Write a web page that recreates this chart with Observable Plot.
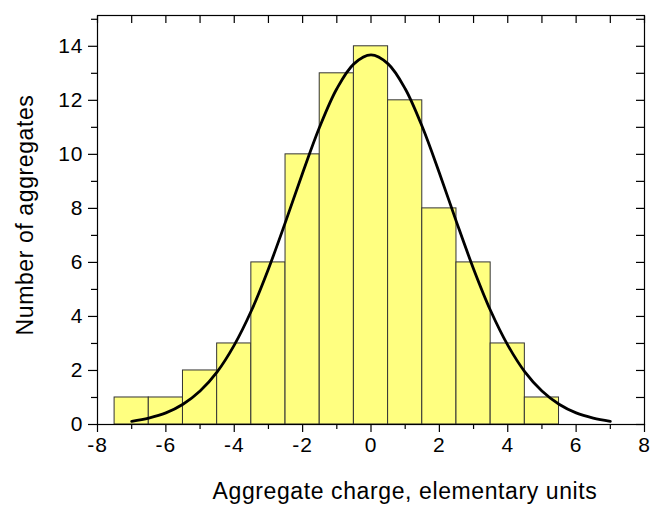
<!DOCTYPE html>
<html>
<head>
<meta charset="utf-8">
<script src="https://cdn.jsdelivr.net/npm/d3@7"></script>
<script src="https://cdn.jsdelivr.net/npm/@observablehq/plot@0.6"></script>
<style>
  body { margin: 0; background: #fff; }
  svg text { font-family: "Liberation Sans", Arial, sans-serif; }
</style>
</head>
<body>
<div id="chart"></div>
<script>
// Histogram bins (center charge) and counts
const binCenters = [-7, -6, -5, -4, -3, -2, -1, 0, 1, 2, 3, 4, 5];
const binCounts  = [ 1,  1,  2,  3,  6, 10, 13, 14, 12,  8,  6,  3,  1];
const binWidth = 1;

// Fitted curve
const curveX = [-7, -6.5, -6, -5.5, -5, -4.5, -4, -3.5, -3, -2.5, -2, -1.5, -1, -0.5, 0,
                0.5, 1, 1.5, 2, 2.5, 3, 3.5, 4, 4.5, 5, 5.5, 6, 6.5, 7];
const curveY = [0.12, 0.24, 0.43, 0.75, 1.24, 1.95, 2.94, 4.21, 5.76, 7.50, 9.31, 11.02, 12.43, 13.35, 13.68,
                13.35, 12.43, 11.02, 9.31, 7.50, 5.76, 4.21, 2.94, 1.95, 1.24, 0.75, 0.43, 0.24, 0.12];

const xMajor = [-8, -6, -4, -2, 0, 2, 4, 6, 8];
const xMinor = [-7, -5, -3, -1, 1, 3, 5, 7];
const yMajor = [0, 2, 4, 6, 8, 10, 12, 14];
const yMinor = [1, 3, 5, 7, 9, 11, 13, 15];

const bins = binCenters.map((c, i) => ({x1: c - binWidth / 2, x2: c + binWidth / 2, count: binCounts[i]}));
const curve = curveX.map((x, i) => ({x, y: curveY[i]}));

const xAll = [...xMajor, ...xMinor];
const yAll = [...yMajor, ...yMinor];
const blank = () => "";

const chart = Plot.plot({
  width: 652,
  height: 505,
  marginLeft: 97,
  marginRight: 8,
  marginTop: 15,
  marginBottom: 81,
  style: {fontFamily: "Liberation Sans, Arial, sans-serif", background: "#fff", overflow: "visible"},
  x: {domain: [-8, 8]},
  y: {domain: [0, 15.14]},
  marks: [
    Plot.rectY(bins, {x1: "x1", x2: "x2", y: "count", fill: "#ffff80", stroke: "#333", strokeWidth: 1}),
    Plot.line(curve, {x: "x", y: "y", stroke: "#000", strokeWidth: 2.8, curve: "catmull-rom"}),
    Plot.frame({stroke: "#000", strokeWidth: 1.2}),
    // bottom axis: major ticks with labels, minor ticks
    Plot.axisX({anchor: "bottom", ticks: xMajor, tickSize: 8, tickPadding: 5, tickFormat: d => d, fontSize: 21, label: null, stroke: "#000", strokeWidth: 1.2, fill: "#000"}),
    Plot.axisX({anchor: "bottom", ticks: xMinor, tickSize: 5, tickFormat: blank, label: null, stroke: "#000", strokeWidth: 1.2}),
    // top ticks, inward
    Plot.axisX({anchor: "top", ticks: xAll, tickSize: -7, tickFormat: blank, label: null, stroke: "#000", strokeWidth: 1.2}),
    // left axis
    Plot.axisY({anchor: "left", ticks: yMajor, tickSize: 9, tickPadding: 5, tickFormat: d => d, fontSize: 21, label: null, stroke: "#000", strokeWidth: 1.2, fill: "#000"}),
    Plot.axisY({anchor: "left", ticks: yMinor, tickSize: 6, tickFormat: blank, label: null, stroke: "#000", strokeWidth: 1.2}),
    // right ticks, inward
    Plot.axisY({anchor: "right", ticks: yAll, tickSize: -9, tickFormat: blank, label: null, stroke: "#000", strokeWidth: 1.2})
  ]
});

const svg = d3.select(chart);
svg.selectAll("[aria-label='x-axis tick label'] text, [aria-label='y-axis tick label'] text")
  .style("letter-spacing", "1px");

// axis titles
svg.append("text")
  .attr("x", 405).attr("y", 499)
  .attr("text-anchor", "middle")
  .attr("font-size", 23)
  .attr("letter-spacing", "0.6px")
  .attr("fill", "#000")
  .text("Aggregate charge, elementary units");

svg.append("text")
  .attr("transform", "translate(33,215) rotate(-90)")
  .attr("text-anchor", "middle")
  .attr("font-size", 23)
  .attr("letter-spacing", "0.6px")
  .attr("fill", "#000")
  .text("Number of aggregates");

document.getElementById("chart").appendChild(chart);
</script>
</body>
</html>
